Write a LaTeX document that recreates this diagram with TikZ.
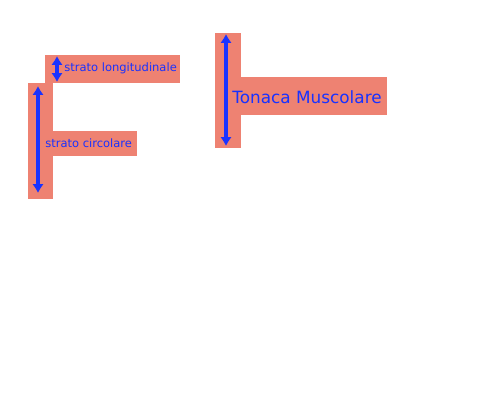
\documentclass[tikz,border=0pt]{standalone}
\usepackage{fontspec}
\setmainfont{DejaVu Sans}
\usepackage{tikz}
\usetikzlibrary{arrows.meta}
\definecolor{muscle}{RGB}{238,130,114}
\definecolor{layerblue}{RGB}{25,50,255}
\tikzset{
  band/.style={fill=muscle, draw=none},
  layerarrow/.style={draw=layerblue, line width=2pt, {Latex[length=5pt,width=6.5pt]}-{Latex[length=5pt,width=6.5pt]}},
  layertext/.style={text=layerblue, inner sep=0pt, anchor=west}
}
\begin{document}
\begin{tikzpicture}[x=0.02cm, y=-0.02cm]
\useasboundingbox (0,0) rectangle (500,400);
% strati
\fill[band] (45,55) rectangle (180,83);
\fill[band] (28,83) rectangle (53,199);
\fill[band] (53,131) rectangle (137,156);
% tonaca
\fill[band] (215,33) rectangle (241,148);
\fill[band] (241,77) rectangle (387,115);

\coordinate (longtop) at (57,56);
\coordinate (longbot) at (57,82);
\coordinate (circtop) at (38,86);
\coordinate (circbot) at (38,193);
\coordinate (tontop) at (226,34);
\coordinate (tonbot) at (226,146);
\draw[layerarrow] (longtop) -- (longbot);
\draw[layerarrow] (circtop) -- (circbot);
\draw[layerarrow] (tontop) -- (tonbot);

\node[layertext, font=\fontsize{6.55}{7}\selectfont] (long) at (64,68) {strato longitudinale};
\node[layertext, font=\fontsize{6.55}{7}\selectfont] (circ) at (45,143) {strato circolare};
\node[layertext, font=\fontsize{9.6}{11}\selectfont] (tonaca) at (232,97) {Tonaca Muscolare};
\end{tikzpicture}
\end{document}
